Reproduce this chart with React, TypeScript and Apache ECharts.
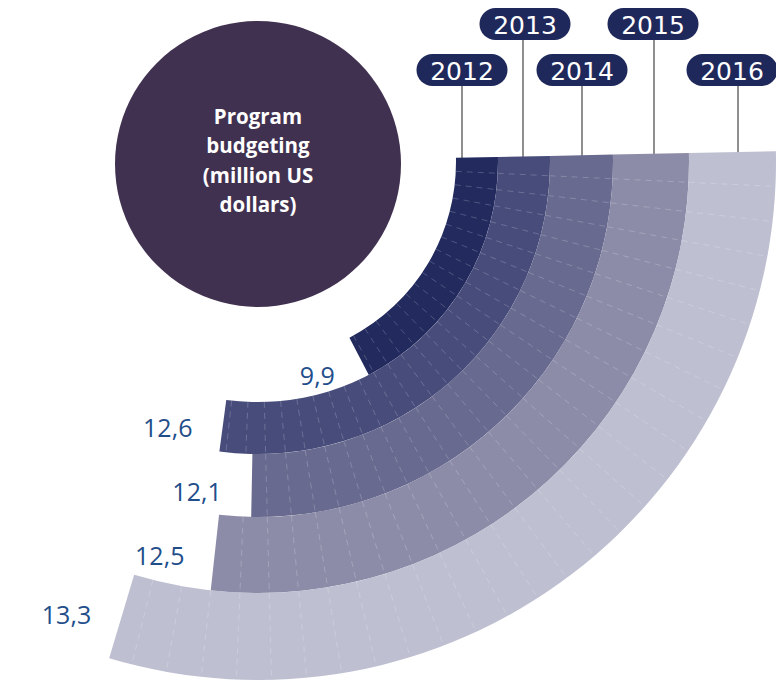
import React, { useEffect, useRef } from 'react';
import * as echarts from 'echarts';

// ---- data ----
const years = ['2012', '2013', '2014', '2015', '2016'];
const budget = [9.9, 12.6, 12.1, 12.5, 13.3];
const centerTitle = ['Program', 'budgeting', '(million US', 'dollars)'];

// ---- layout / style ----
const W = 776;
const H = 696;
const CX = 258;
const CY = 162;
const ANGLE_MIN = 5;
const ANGLE_MAX = 15;
const GRID_STEP = 0.3;
const START_ANGLE = 1.2;
const SWEEP = 130;
const ringEdges = [198, 240, 292, 355, 431, 518];
const ringColors = ['#222a5e', '#474c7b', '#686a8f', '#8c8ca8', '#bebfd1'];
const pillCenters = [
  [462, 70],
  [525, 24],
  [582, 70],
  [653, 24],
  [732, 70],
];
const leaderX = [462, 523, 582, 654, 738];
const PILL_W = 91;
const PILL_H = 32;
const PILL_COLOR = '#1f285b';
const LABEL_COLOR = '#1f4e8b';
const LABEL_GAP = 30;
const LABEL_RADIAL = 7;

const fmt = (v: number) => String(v).replace('.', ',');

export default function App() {
  const ref = useRef<HTMLDivElement>(null);

  useEffect(() => {
    document.body.style.margin = '0';
    if (!ref.current) return;
    const chart = echarts.init(ref.current, undefined, { renderer: 'svg' });

    const polar = years.map((_, i) => ({
      center: [CX, CY],
      radius: [ringEdges[i], ringEdges[i + 1]],
    }));
    const angleAxis = years.map((_, i) => ({
      polarIndex: i,
      type: 'value',
      min: ANGLE_MIN,
      max: ANGLE_MAX,
      startAngle: START_ANGLE,
      endAngle: START_ANGLE - SWEEP,
      clockwise: true,
      axisLine: { show: false },
      axisTick: { show: false },
      axisLabel: { show: false },
      splitLine: { show: false },
    }));
    const radiusAxis = years.map((y, i) => ({
      polarIndex: i,
      type: 'category',
      data: [y],
      show: false,
      axisLine: { show: false },
      axisTick: { show: false },
      axisLabel: { show: false },
      splitLine: { show: false },
    }));

    const series = years.map((y, i) => ({
      type: 'custom',
      name: y,
      coordinateSystem: 'polar',
      polarIndex: i,
      data: [[0, budget[i]]],
      renderItem: (params: any, api: any) => {
        const cs = params.coordSys;
        const cx = cs.cx;
        const cy = cs.cy;
        const r0 = cs.r0;
        const r = cs.r;
        const value = api.value(1) as number;
        const angOf = (t: number) => {
          const p = api.coord([0, t]);
          return Math.atan2(p[1] - cy, p[0] - cx); // screen radians
        };
        const a0 = angOf(ANGLE_MIN);
        const a1 = angOf(value);
        const children: any[] = [
          {
            type: 'sector',
            shape: { cx, cy, r0, r, startAngle: a0, endAngle: a1, clockwise: true },
            style: { fill: ringColors[i] },
          },
        ];
        for (let k = 1; ANGLE_MIN + k * GRID_STEP < value - 0.05; k++) {
          const a = angOf(ANGLE_MIN + k * GRID_STEP);
          children.push({
            type: 'line',
            shape: {
              x1: cx + r0 * Math.cos(a),
              y1: cy + r0 * Math.sin(a),
              x2: cx + r * Math.cos(a),
              y2: cy + r * Math.sin(a),
            },
            style: { stroke: 'rgba(255,255,255,0.2)', lineWidth: 1, lineDash: [6, 5] },
          });
        }
        const rm = (r0 + r) / 2 + LABEL_RADIAL;
        const al = a1 + LABEL_GAP / rm;
        children.push({
          type: 'text',
          x: cx + rm * Math.cos(al),
          y: cy + rm * Math.sin(al),
          style: {
            text: fmt(value),
            fill: LABEL_COLOR,
            fontSize: 25,
            fontFamily: '"Open Sans", sans-serif',
            align: 'right',
            verticalAlign: 'middle',
          },
        });
        return { type: 'group', children };
      },
    }));

    const graphic: any[] = [
      {
        type: 'circle',
        shape: { cx: CX, cy: 164, r: 143 },
        style: { fill: '#413150' },
        z: 0,
      },
      {
        type: 'text',
        x: CX,
        y: 160,
        style: {
          text: centerTitle.join('\n'),
          fill: '#ffffff',
          fontSize: 20.5,
          fontWeight: 'bold',
          fontFamily: '"Open Sans", sans-serif',
          lineHeight: 29.5,
          align: 'center',
          verticalAlign: 'middle',
        },
        z: 1,
      },
    ];
    years.forEach((y, i) => {
      const [px, py] = pillCenters[i];
      graphic.push({
        type: 'line',
        shape: { x1: leaderX[i], y1: py + PILL_H / 2, x2: leaderX[i], y2: 166 },
        style: { stroke: '#8f8f8f', lineWidth: 2 },
        z: 0,
      });
      graphic.push({
        type: 'rect',
        shape: { x: px - PILL_W / 2, y: py - PILL_H / 2, width: PILL_W, height: PILL_H, r: PILL_H / 2 },
        style: { fill: PILL_COLOR },
        z: 1,
      });
      graphic.push({
        type: 'text',
        x: px,
        y: py + 1,
        style: {
          text: y,
          fill: '#ffffff',
          fontSize: 25,
          fontFamily: '"DejaVu Sans", sans-serif',
          align: 'center',
          verticalAlign: 'middle',
        },
        z: 2,
      });
    });

    chart.setOption({
      animation: false,
      backgroundColor: '#ffffff',
      polar,
      angleAxis,
      radiusAxis,
      series,
      graphic,
    });

    return () => chart.dispose();
  }, []);

  return <div ref={ref} style={{ width: W, height: H }} />;
}
